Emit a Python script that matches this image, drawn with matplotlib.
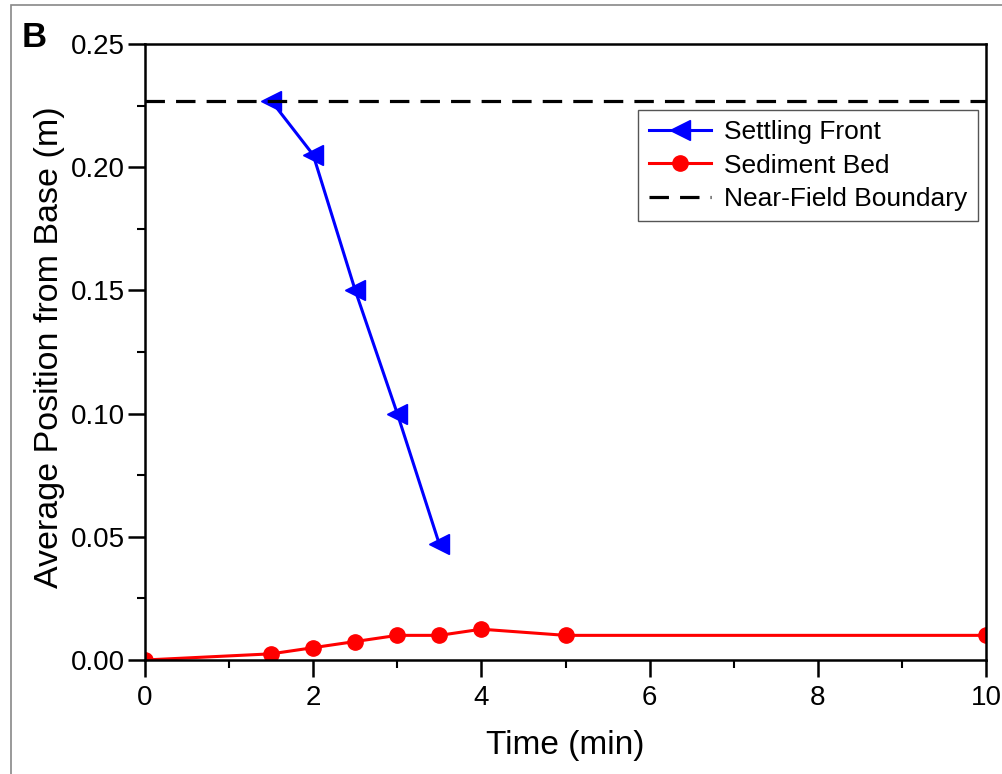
import matplotlib
matplotlib.use("Agg")
import matplotlib.pyplot as plt
from matplotlib.ticker import MultipleLocator, FormatStrFormatter
from matplotlib.patches import Rectangle

plt.rcParams['font.family'] = ['Liberation Sans', 'DejaVu Sans']
plt.rcParams['lines.scale_dashes'] = False

# Data
settling_time = [1.5, 2.0, 2.5, 3.0, 3.5]
settling_pos = [0.227, 0.205, 0.150, 0.100, 0.047]
bed_time = [0, 1.5, 2.0, 2.5, 3.0, 3.5, 4.0, 5.0, 10.0]
bed_pos = [0.0, 0.0025, 0.005, 0.0075, 0.010, 0.010, 0.0125, 0.010, 0.010]
near_field = 0.227

fig = plt.figure(figsize=(10.02, 7.74), dpi=100)
fig.patches.append(Rectangle((11/1002, -0.1), 1.2, 1 - 5/774 + 0.1, transform=fig.transFigure,
                             fill=False, edgecolor='#888888', linewidth=1.2))
ax = fig.add_axes([145/1002, 1 - 660/774, (986 - 145)/1002, (660 - 44)/774])

ax.plot(settling_time, settling_pos, color='#0000ff', marker='<', markersize=14,
        linewidth=2.2, label='Settling Front')
ax.plot(bed_time, bed_pos, color='#ff0000', marker='o', markersize=11,
        linewidth=2.2, label='Sediment Bed')
ax.axhline(near_field, color='black', linewidth=2.3, dashes=(14, 8),
           label='Near-Field Boundary')

ax.set_xlim(0, 10)
ax.set_ylim(0, 0.25)
ax.xaxis.set_major_locator(MultipleLocator(2))
ax.xaxis.set_minor_locator(MultipleLocator(1))
ax.yaxis.set_major_locator(MultipleLocator(0.05))
ax.yaxis.set_minor_locator(MultipleLocator(0.025))
ax.yaxis.set_major_formatter(FormatStrFormatter('%.2f'))

for s in ax.spines.values():
    s.set_linewidth(1.8)
ax.tick_params(which='major', direction='out', length=12, width=1.8, labelsize=20)
ax.tick_params(axis='x', which='major', pad=6)
ax.tick_params(axis='y', which='major', pad=2.5)
ax.tick_params(which='minor', direction='out', length=6, width=1.5)
ax.tick_params(top=False, right=False)

ax.set_xlabel('Time (min)', fontsize=24, labelpad=13.5)
ax.set_ylabel('Average Position from Base (m)', fontsize=24.5, labelpad=4)
ax.yaxis.label.set_y(0.508)

leg = ax.legend(loc='upper right', bbox_to_anchor=(0.9905, 0.893), fontsize=19,
                frameon=True, fancybox=False, edgecolor='#555555', framealpha=1,
                handlelength=2.35, borderpad=0.4, labelspacing=0.35, handletextpad=0.5,
                borderaxespad=0.0)
leg.get_frame().set_linewidth(1.0)

fig.text(22/1002, 1 - 47/774, 'B', fontsize=25, fontweight='bold', ha='left', va='baseline')

fig.savefig('out.png', dpi=100)
